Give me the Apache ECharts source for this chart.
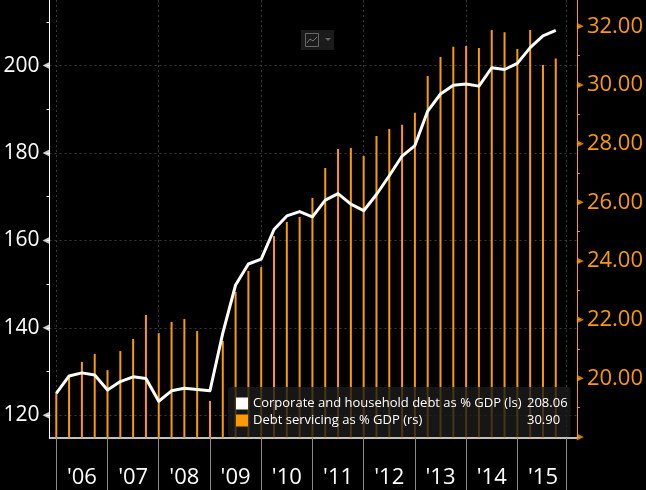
<!DOCTYPE html>
<html>
<head>
<meta charset="utf-8">
<style>
  html, body { margin: 0; padding: 0; background: #000; }
  #chart { width: 646px; height: 490px; }
</style>
<script src="https://cdn.jsdelivr.net/npm/echarts@6/dist/echarts.min.js"></script>
</head>
<body>
<div id="chart"></div>
<script>
// quarterly points, '06 Q1 to '15 Q4
const quarters = [0, 1, 2, 3, 4, 5, 6, 7, 8, 9, 10, 11, 12, 13, 14, 15, 16, 17, 18, 19, 20, 21, 22, 23, 24, 25, 26, 27, 28, 29, 30, 31, 32, 33, 34, 35, 36, 37, 38, 39]
const debtValues = [125.0, 129.0, 129.7, 129.2, 125.8, 127.7, 128.8, 128.4, 123.2, 125.6, 126.2, 125.9, 125.6, 138.8, 149.8, 154.6, 155.7, 162.5, 165.6, 166.6, 165.4, 169.2, 170.7, 168.3, 166.8, 170.5, 174.8, 179.3, 181.7, 189.6, 193.5, 195.5, 195.8, 195.3, 199.5, 199.1, 200.5, 204.1, 206.8, 208.06]
const servicingValues = [19.5, 20.1, 20.56, 20.83, 20.28, 20.93, 21.34, 22.16, 21.54, 21.92, 22.02, 21.61, 19.23, 21.27, 22.94, 23.66, 23.79, 24.85, 25.33, 25.5, 26.15, 27.17, 27.82, 27.85, 27.58, 28.26, 28.5, 28.64, 29.05, 30.31, 30.95, 31.3, 31.33, 31.26, 31.87, 31.8, 31.23, 31.87, 30.68, 30.9]

const yearLabels = ["'06", "'07", "'08", "'09", "'10", "'11", "'12", "'13", "'14", "'15"]
const yearLabelAt = [2, 6, 10, 14, 18, 22, 26, 30, 34, 38]
const yearTicks = [0, 4, 8, 12, 16, 20, 24, 28, 32, 36, 39.85]
const verticalGrid = [0, 8, 16, 24, 32, 39.85]

const leftLabels = [120, 140, 160, 180, 200]
const leftTicks = [120, 130, 140, 150, 160, 170, 180, 190, 200, 210]
const rightLabels = [20, 22, 24, 26, 28, 30, 32]
const rightArrows = [18, 20, 22, 24, 26, 28, 30, 32]
const rightTicks = [18, 19, 20, 21, 22, 23, 24, 25, 26, 27, 28, 29, 30, 31, 32]

const debtName = 'Corporate and household debt as % GDP (ls)'
const servicingName = 'Debt servicing as % GDP (rs)'
const lastValues = {[debtName]: '208.06', [servicingName]: '30.90'}

const ORANGE = '#fb9a05'
const FONT = '"Open Sans", sans-serif'
const xMin = -0.53
const xMax = 40.65
const leftRange = [114.8, 215]
const rightRange = [17.965, 32.897]

const chart = echarts.init(document.getElementById('chart'))

chart.setOption({
  animation: false,
  backgroundColor: '#000',
  grid: {left: 49.5, right: 68.5, top: 0, bottom: 52},
  xAxis: [
    {
      type: 'value',
      position: 'bottom',
      min: xMin,
      max: xMax,
      axisLine: {onZero: false, lineStyle: {color: '#fff', width: 1.5}},
      axisTick: {show: true, customValues: yearTicks, length: 52, lineStyle: {color: '#8a8a8a', width: 1}},
      axisLabel: {
        customValues: yearLabelAt,
        margin: 29,
        color: '#fff',
        fontFamily: FONT,
        fontSize: 22,
        formatter: value => yearLabels[yearLabelAt.indexOf(value)],
      },
      splitLine: {show: false},
    },
    {
      // only carries the dotted vertical grid
      type: 'value',
      position: 'bottom',
      min: xMin,
      max: xMax,
      axisLine: {show: false},
      axisTick: {show: false, customValues: verticalGrid},
      axisLabel: {show: false},
      splitLine: {show: true, lineStyle: {color: '#3a3a3a', type: [2, 3], width: 1}},
    },
  ],
  yAxis: [
    {
      type: 'value',
      position: 'left',
      min: leftRange[0],
      max: leftRange[1],
      axisLine: {show: true, onZero: false, lineStyle: {color: '#fff', width: 1}},
      axisTick: {show: true, customValues: leftTicks, length: 3, lineStyle: {color: '#fff'}},
      axisLabel: {customValues: leftLabels, margin: 10, color: '#fff', fontFamily: FONT, fontSize: 21, padding: [2, 0, 0, 0]},
      splitLine: {show: false},
    },
    {
      type: 'value',
      position: 'right',
      min: rightRange[0],
      max: rightRange[1],
      axisLine: {show: true, onZero: false, lineStyle: {color: ORANGE, width: 1}},
      axisTick: {show: true, customValues: rightTicks, length: 3, lineStyle: {color: ORANGE}},
      axisLabel: {
        customValues: rightLabels,
        margin: 10,
        color: ORANGE,
        fontFamily: FONT,
        fontSize: 22,
        padding: [3, 0, 0, 0],
        formatter: value => value.toFixed(2),
      },
      splitLine: {show: false},
    },
    {
      // only carries the dotted horizontal grid
      type: 'value',
      position: 'left',
      min: leftRange[0],
      max: leftRange[1],
      axisLine: {show: false, onZero: false},
      axisTick: {show: false, customValues: leftLabels},
      axisLabel: {show: false},
      splitLine: {show: true, lineStyle: {color: '#3a3a3a', type: [2, 3], width: 1}},
    },
  ],
  legend: {
    left: 228,
    top: 387,
    orient: 'vertical',
    data: [debtName, servicingName],
    icon: 'rect',
    itemWidth: 12,
    itemHeight: 12,
    itemGap: 4,
    padding: [10, 3, 10, 8],
    backgroundColor: 'rgba(28, 28, 28, 0.8)',
    borderRadius: 3,
    selectedMode: false,
    formatter: name => `{n|${name}}{v|${lastValues[name]}}`,
    textStyle: {
      rich: {
        n: {color: '#fff', fontFamily: FONT, fontSize: 13, width: 274},
        v: {color: '#fff', fontFamily: FONT, fontSize: 13, width: 39},
      },
    },
  },
  series: [
    {
      name: servicingName,
      type: 'bar',
      yAxisIndex: 1,
      barWidth: 2,
      itemStyle: {color: ORANGE},
      data: quarters.map((q, i) => [q, servicingValues[i]]),
    },
    {
      name: debtName,
      type: 'line',
      symbol: 'none',
      lineStyle: {color: '#fff', width: 3, join: 'round'},
      itemStyle: {color: '#fff'},
      data: quarters.map((q, i) => [q, debtValues[i]]),
      z: 3,
    },
    {
      // arrow heads on the major ticks, left axis
      type: 'scatter',
      symbol: 'triangle',
      symbolSize: [7, 7],
      symbolRotate: 90,
      symbolOffset: [-3.5, 0],
      clip: false,
      silent: true,
      itemStyle: {color: '#fff'},
      data: leftLabels.map(v => [xMin, v]),
    },
    {
      // arrow heads on the major ticks, right axis
      type: 'scatter',
      yAxisIndex: 1,
      symbol: 'triangle',
      symbolSize: [7, 7],
      symbolRotate: -90,
      symbolOffset: [3.5, 0],
      clip: false,
      silent: true,
      itemStyle: {color: ORANGE},
      data: rightArrows.map(v => [xMax, v]),
    },
  ],
  graphic: [
    {type: 'rect', shape: {x: 301, y: 30, width: 33, height: 20}, style: {fill: '#1b1b1b'}},
    {type: 'rect', shape: {x: 305.5, y: 33.5, width: 13, height: 13}, style: {fill: 'none', stroke: '#666', lineWidth: 1}},
    {type: 'polyline', shape: {points: [[307, 43], [310, 39], [313, 41], [317, 37]]}, style: {fill: 'none', stroke: '#777', lineWidth: 1}},
    {type: 'polygon', shape: {points: [[325, 38], [331, 38], [328, 41]]}, style: {fill: '#666'}},
  ],
})

window.addEventListener('resize', () => chart.resize())
</script>
</body>
</html>
